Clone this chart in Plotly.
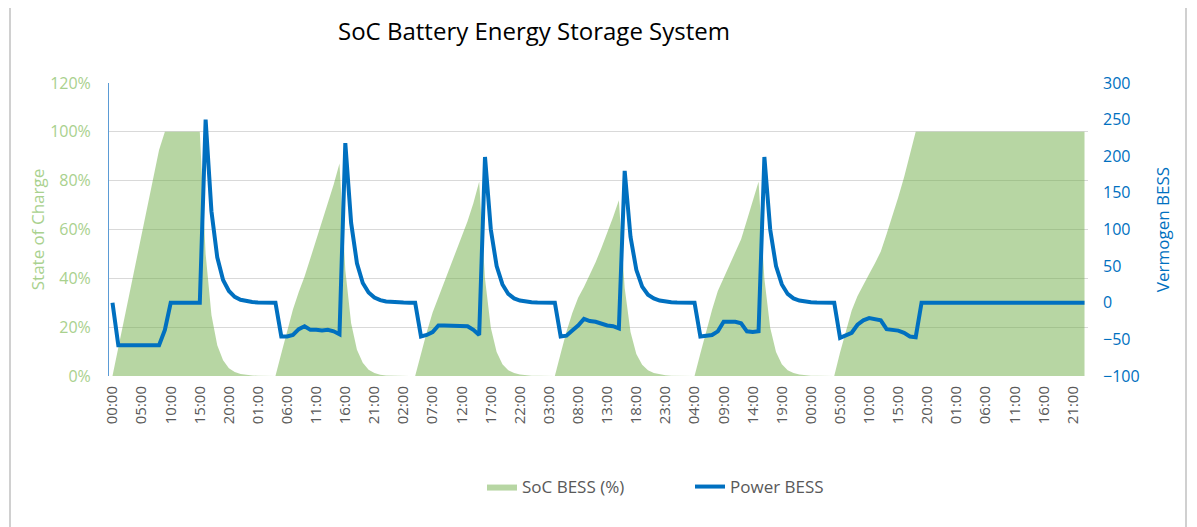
import plotly.graph_objects as go

# ---- data (hourly, 7 days) ----
soc_day1 = [0, 11.6, 23.2, 34.8, 46.2, 57.8, 69.4, 81, 92.6, 100,
            100, 100, 100, 100, 100, 100,
            50, 25, 12.6, 6.4, 3.2, 1.6, 0.8, 0.4]
soc_day2 = [0.2, 0.1, 0.06, 0.04, 0.02,
            9.2, 18.4, 27.2, 34.4, 40.8, 48.2, 55.6, 63.2, 70.6, 78.4, 87,
            43.4, 21.6, 10.8, 5.4, 2.6, 1.2, 0.5, 0.2]
soc_day3 = [0.1, 0.05, 0.03, 0.02, 0.01,
            9.2, 18, 26, 32.2, 38.4, 44.6, 50.8, 57, 63.4, 70.8, 79.6,
            39.8, 19.8, 9.8, 4.8, 2.4, 1.2, 0.6, 0.3]
soc_day4 = [0.15, 0.07, 0.04, 0.02, 0.01,
            9.2, 18.2, 25.8, 32, 36.4, 41.4, 46.6, 52.4, 58.6, 65, 72,
            36, 18, 9, 4.6, 2.4, 1.2, 0.6, 0.3]
soc_day5 = [0.15, 0.07, 0.04, 0.02, 0.01,
            9.2, 18.2, 27, 34.8, 40, 45.2, 50.4, 56, 63.8, 71.8, 79.6,
            39.8, 19.8, 9.8, 4.8, 2.4, 1.2, 0.6, 0.3]
soc_day6 = [0.15, 0.07, 0.04, 0.02, 0.01,
            9.6, 18.6, 26.8, 32.8, 37.6, 41.8, 46.2, 51, 58.2, 65.6, 73.2, 81.4, 90.6, 100,
            100, 100, 100, 100, 100]
soc_day7 = [100, 100, 100, 100, 100, 100, 100, 100, 100, 100, 100, 100,
            100, 100, 100, 100, 100, 100, 100, 100, 100, 100, 100, 100]

power_day1 = [0, -58, -58, -58, -57, -58, -58, -58, -58, -37,
              0, 0, 0, 0, 0, 0,
              250, 125, 62, 31, 16, 8, 4, 2]
power_day2 = [1, 0.5, 0.2, 0.1, 0.1,
              -46, -46, -44, -36, -32, -37, -37, -38, -37, -39, -43,
              218, 109, 54, 27, 14, 7, 3.5, 1.7]
power_day3 = [0.9, 0.4, 0.2, 0.1, 0.1,
              -46, -44, -40, -31, -31, -31, -31, -31, -32, -37, -44,
              199, 100, 50, 25, 12, 6, 3, 1.6]
power_day4 = [0.8, 0.4, 0.2, 0.1, 0.1,
              -46, -45, -38, -31, -22, -25, -26, -29, -31, -32, -35,
              180, 90, 45, 22, 11, 6, 3, 1.4]
power_day5 = [0.7, 0.4, 0.2, 0.1, 0.1,
              -46, -45, -44, -39, -26, -26, -26, -28, -39, -40, -39,
              199, 100, 50, 25, 12, 6, 3, 1.6]
power_day6 = [0.8, 0.4, 0.2, 0.1, 0.1,
              -48, -45, -41, -30, -24, -21, -22, -24, -36, -37, -38, -41, -46, -47,
              0, 0, 0, 0, 0]
power_day7 = [0, 0, 0, 0, 0, 0, 0, 0, 0, 0, 0, 0,
              0, 0, 0, 0, 0, 0, 0, 0, 0, 0, 0, 0]

tick_labels = ["00:00", "05:00", "10:00", "15:00", "20:00", "01:00", "06:00",
               "11:00", "16:00", "21:00", "02:00", "07:00", "12:00", "17:00",
               "22:00", "03:00", "08:00", "13:00", "18:00", "23:00", "04:00",
               "09:00", "14:00", "19:00", "00:00", "05:00", "10:00", "15:00",
               "20:00", "01:00", "06:00", "11:00", "16:00", "21:00"]

soc_ticks = [0, 20, 40, 60, 80, 100, 120]
soc_tick_text = ["0%", "20%", "40%", "60%", "80%", "100%", "120%"]
power_ticks = [-100, -50, 0, 50, 100, 150, 200, 250, 300]

soc = soc_day1 + soc_day2 + soc_day3 + soc_day4 + soc_day5 + soc_day6 + soc_day7
power = (power_day1 + power_day2 + power_day3 + power_day4 + power_day5
         + power_day6 + power_day7)
hours = list(range(len(soc)))
tick_positions = [i * 5 for i in range(len(tick_labels))]

GREEN_TXT = "#A9D18E"
BLUE = "#0070C0"
GRAY = "#595959"
FONT = "Open Sans"

OFF = 8  # page body margin
W, H = 1189, 519
PL, PR, PT, PB = 109, 1088, 83, 376   # plot area in page pixels
L, T = PL - OFF, PT - OFF
R, B = W + OFF - PR, H + OFF - PB
pw, ph = PR - PL, PB - PT


def px_x(p):
    return (p - PL) / pw


def px_y(p):
    return (PB - p) / ph


fig = go.Figure()
fig.add_trace(go.Scatter(
    x=hours, y=soc, name="SoC BESS (%)", mode="lines",
    fill="tozeroy", fillcolor="rgba(112,173,71,0.5)",
    line=dict(width=0, color="rgba(112,173,71,0.5)"),
))
fig.add_trace(go.Scatter(
    x=hours, y=power, name="Power BESS", mode="lines",
    line=dict(color=BLUE, width=4), yaxis="y2",
))

fig.update_layout(
    width=W, height=H,
    margin=dict(l=L, r=R, t=T, b=B, autoexpand=False),
    paper_bgcolor="white", plot_bgcolor="white",
    font=dict(family=FONT, color=GRAY),
    title=dict(text="SoC Battery Energy Storage System",
               x=(534 - OFF) / W, xanchor="center",
               y=1 - (32 - OFF) / H, yanchor="middle",
               font=dict(size=24, color="black", family=FONT)),
    showlegend=True,
    legend=dict(orientation="h", x=px_x(482), xanchor="left",
                y=px_y(487), yanchor="middle",
                font=dict(size=17, color=GRAY), entrywidth=163,
                bgcolor="rgba(0,0,0,0)"),
    xaxis=dict(range=[-0.6, 167.6], tickmode="array",
               tickvals=tick_positions, ticktext=tick_labels,
               tickangle=-90, tickfont=dict(size=15, color=GRAY),
               showgrid=False, zeroline=False, showline=False,
               ticks="", ticklabelstandoff=6),
    yaxis=dict(range=[0, 120], tickmode="array",
               tickvals=soc_ticks, ticktext=soc_tick_text,
               tickfont=dict(size=16, color=GREEN_TXT),
               title=dict(text="State of Charge",
                          font=dict(size=17, color=GREEN_TXT), standoff=1),
               gridcolor="#D9D9D9", gridwidth=1, zeroline=False,
               showline=True, linecolor="#5B9BD5", linewidth=1,
               ticks="", ticklabelstandoff=14),
    yaxis2=dict(range=[-100, 300], overlaying="y", side="right",
                tickmode="array", tickvals=power_ticks,
                tickfont=dict(size=16, color=BLUE),
                title=dict(text="Vermogen BESS",
                           font=dict(size=17, color=BLUE), standoff=18),
                showgrid=False, zeroline=False, showline=False,
                ticks="", ticklabelstandoff=14),
    shapes=[dict(type="line", xref="paper", yref="paper",
                 x0=px_x(10), x1=px_x(10), y0=px_y(530), y1=px_y(-10),
                 line=dict(color="#D0D0D0", width=2), layer="above"),
            dict(type="line", xref="paper", yref="paper",
                 x0=px_x(1186), x1=px_x(1186), y0=px_y(530), y1=px_y(-10),
                 line=dict(color="#D0D0D0", width=2), layer="above")],
)

fig.write_html("out.html")
